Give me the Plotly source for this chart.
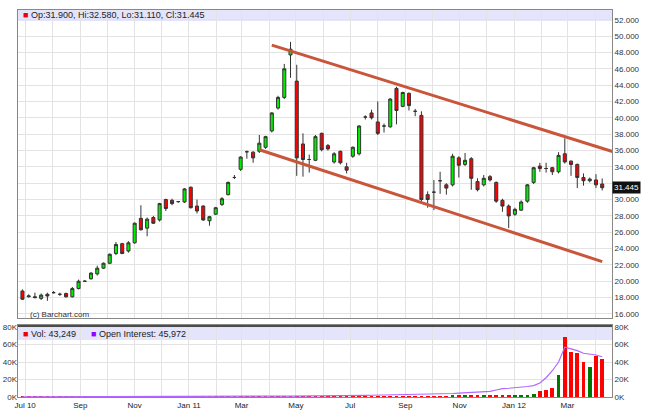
import plotly.graph_objects as go
import pandas as pd

start = "2010-06-28"
O = [18.8,18.1,18.1,17.9,18.4,18.6,18.4,18.5,18.1,19.1,20.0,20.3,20.9,21.6,22.2,23.4,24.6,23.7,24.7,27.7,
     26.5,27.8,27.5,30.0,29.9,29.75,29.7,31.5,29.2,29.2,27.4,28.2,29.4,30.6,32.7,33.7,35.85,35.8,35.9,36.4,
     38.4,41.2,42.5,47.7,44.5,36.8,34.9,34.8,38.1,36.6,34.6,35.9,34.0,35.3,35.6,40.1,40.6,39.5,39.0,38.9,
     43.6,41.4,43.0,40.8,40.3,30.6,30.9,32.3,31.8,31.8,35.1,34.3,35.0,32.2,31.8,32.8,32.1,29.9,29.2,28.2,
     28.7,29.8,32.1,34.1,33.8,33.9,33.4,35.6,34.7,34.3,32.7,32.3,32.4,31.9]
C = [17.8,18.2,18.0,18.3,18.2,18.6,18.4,18.1,19.1,20.0,20.0,21.0,21.6,22.2,23.3,24.5,23.4,24.7,27.1,26.3,
     27.6,27.1,29.5,28.9,29.5,29.75,31.3,29.0,28.6,27.5,27.9,29.0,30.1,32.1,32.7,35.2,35.85,35.1,36.9,37.7,
     40.6,42.5,46.0,48.4,35.1,34.9,34.9,37.7,36.1,36.2,35.6,34.5,33.6,36.4,39.0,40.1,40.0,38.1,39.0,42.3,
     40.9,43.1,41.5,40.8,30.0,30.0,30.9,32.3,31.4,35.3,34.2,34.8,32.6,31.2,32.6,32.4,29.8,29.2,28.0,28.8,
     29.7,31.8,33.9,33.8,33.8,33.4,35.4,34.6,34.3,32.7,32.3,32.5,31.8,31.445]
H = [19.0,18.4,18.6,18.5,18.6,18.8,18.6,18.6,19.3,20.2,20.1,21.1,21.9,22.3,23.4,24.8,24.7,24.9,27.2,29.3,
     27.8,28.0,29.6,30.1,30.1,29.8,31.4,31.6,30.0,29.3,28.0,29.1,30.3,32.2,33.0,35.3,36.0,35.9,37.9,37.8,
     40.7,42.7,46.6,49.3,46.5,38.1,35.5,37.9,38.2,36.8,35.8,36.0,34.5,36.5,39.1,40.3,41.0,42.0,39.3,42.4,
     43.8,43.2,43.1,41.1,40.8,31.0,32.4,33.4,32.0,35.6,35.3,35.7,35.2,32.6,33.0,33.0,32.2,30.1,29.4,29.0,
     29.9,31.9,34.0,34.5,34.5,34.0,35.8,37.5,34.8,34.4,33.2,32.7,33.1,32.58]
L = [17.7,18.0,17.9,17.7,17.6,18.5,18.2,18.0,18.0,19.0,19.9,20.2,20.7,21.5,22.1,23.2,23.3,23.5,24.6,26.2,
     25.5,27.0,27.3,28.6,29.3,29.6,29.6,28.9,28.3,27.4,26.8,28.1,29.2,30.5,32.5,33.5,35.0,34.5,35.7,36.2,
     38.2,41.0,42.3,44.9,32.9,32.8,33.3,34.7,35.9,36.0,34.4,34.3,33.2,35.1,35.4,39.8,39.8,37.9,38.2,38.8,
     39.2,41.3,40.9,40.2,29.8,29.0,28.7,30.7,30.6,31.6,32.7,34.1,31.2,31.0,31.6,32.2,29.6,28.5,26.5,28.0,
     28.6,29.6,31.9,33.4,33.3,33.0,33.2,34.4,32.9,31.4,31.7,32.1,31.4,31.11]
VOL = [0.1,0.1,0.1,0.1,0.1,0.1,0.1,0.1,0.1,0.1,0.1,0.1,0.1,0.1,0.1,0.1,0.1,0.1,0.1,0.1,
       0.1,0.1,0.1,0.1,0.1,0.1,0.1,0.1,0.1,0.1,0.1,0.1,0.1,0.1,0.1,0.1,0.1,0.1,0.1,0.1,
       0.1,0.1,0.1,0.1,0.2,0.2,0.2,0.2,0.2,0.2,0.2,0.2,0.2,0.2,0.2,0.2,0.2,0.2,0.2,0.2,
       0.3,0.3,0.3,0.3,0.3,0.3,0.3,0.3,0.3,
       1.5,2,2,2,2,1.5,2,1.5,1.5,1.5,2,2,2,3,7,8.5,10,25,69,52,50,40,34,47,43.249]
VOL_UP = "rrrrrrrrrrrrrrrrrrrrrrrrrrrrrrrrrrrrrrrrrrrrrrrrrrrrrrrrrrrrrrrrrrrrr" + "grgrrgrrrrggggrrrgrrrrgrr"
OI = [0.2,0.2,0.2,0.2,0.2,0.2,0.2,0.2,0.3,0.3,0.3,0.3,0.3,0.3,0.3,0.3,0.4,0.4,0.4,0.4,
      0.4,0.4,0.5,0.5,0.5,0.5,0.5,0.6,0.6,0.6,0.6,0.7,0.7,0.7,0.7,0.8,0.8,0.8,0.9,0.9,
      1.0,1.0,1.0,1.1,1.1,1.2,1.2,1.3,1.3,1.4,1.4,1.5,1.6,1.7,1.8,1.9,2.0,2.1,2.2,2.3,
      2.4,2.5,2.7,2.9,3.1,3.3,3.5,3.7,3.9,
      4,4.5,5,5,5.5,6,6.5,8,9.5,10,10.5,11,12,13,16,22,30,40,57,55,53,50,49,48,45.972]
UP_DATES = ["2011-04-04", "2012-05-28"]
UP_PRICES = [48.9, 34.6]
LO_DATES = ["2011-03-21", "2012-04-09"]
LO_PRICES = [36.1, 22.4]
TICK_MONTHS = pd.date_range("2010-07-01", "2012-04-01", freq="MS")
TICK_LABELS = {"2010-07": "Jul 10", "2011-01": "Jan 11", "2012-01": "Jan 12"}
PRICE_TICKS = list(range(16, 53, 2))

dates = pd.date_range(start, periods=len(O), freq="7D")
ticktext = []
for i, d in enumerate(TICK_MONTHS):
    k = d.strftime("%Y-%m")
    ticktext.append(TICK_LABELS.get(k, d.strftime("%b")) if i % 2 == 0 else "")
price_text = ["" if v == 32 else f"{v:.3f}" for v in PRICE_TICKS]

fig = go.Figure()
fig.add_trace(go.Candlestick(x=dates, open=O, high=H, low=L, close=C,
    increasing=dict(fillcolor="#00ee00", line=dict(color="#333333", width=1)),
    decreasing=dict(fillcolor="#ff0000", line=dict(color="#333333", width=1)),
    whiskerwidth=0, xaxis="x", yaxis="y", showlegend=False))
for xs, ys in [(UP_DATES, UP_PRICES), (LO_DATES, LO_PRICES)]:
    fig.add_trace(go.Scatter(x=xs, y=ys, mode="lines", line=dict(color="#c9553a", width=3),
                             xaxis="x", yaxis="y", showlegend=False, hoverinfo="skip"))
fig.add_trace(go.Bar(x=dates, y=VOL, marker_color=["#ff0000" if c == "r" else "#007700" for c in VOL_UP],
                     marker_line_width=0, width=4.2*86400000, xaxis="x2", yaxis="y2", showlegend=False))
fig.add_trace(go.Scatter(x=dates, y=OI, mode="lines", line=dict(color="#b266ff", width=1.2),
                         xaxis="x2", yaxis="y2", showlegend=False))
fig.add_trace(go.Scatter(x=[dates[0]], y=[0], mode="markers", marker=dict(opacity=0),
                         xaxis="x2", yaxis="y3", showlegend=False, hoverinfo="skip"))

xr = ["2010-06-23", "2012-04-20"]
grid = "#e3e3e3"
tf = dict(family="Arial", size=8, color="#333")
common_x = dict(range=xr, tickvals=TICK_MONTHS, ticktext=ticktext, showgrid=True, gridcolor=grid,
                showline=True, linecolor="#888888", mirror=True, ticks="", zeroline=False, automargin=False,
                rangeslider=dict(visible=False), ticklabelstandoff=0,
                tickfont=dict(family="Arial Black, Arial", size=8, color="#222"))

BOT = 397
def ypx(px):
    return (BOT - px) / (BOT - 10)

fig.update_layout(
    width=645, height=410, margin=dict(l=18, r=33, t=10, b=410 - BOT),
    paper_bgcolor="white", plot_bgcolor="white", bargap=0,
    xaxis=dict(common_x, domain=[0, 1], anchor="y", showticklabels=False),
    xaxis2=dict(common_x, domain=[0, 1], anchor="y2", matches="x", showticklabels=True),
    yaxis=dict(domain=[ypx(318), 1], range=[15.5, 53.2], side="right", tickvals=PRICE_TICKS,
               ticktext=price_text, showgrid=True, gridcolor=grid, showline=True, linecolor="#888888",
               mirror=True, zeroline=False, tickfont=tf, automargin=False),
    yaxis2=dict(domain=[0, ypx(325)], range=[0, 82.3], side="right", tickvals=[0, 20, 40, 60, 80],
                ticktext=["0K", "20K", "40K", "60K", "80K"], showgrid=True, gridcolor=grid,
                showline=True, linecolor="#888888", mirror=True, zeroline=False, tickfont=tf, automargin=False),
    yaxis3=dict(overlaying="y2", range=[0, 82.3], side="left", tickvals=[0, 20, 40, 60, 80],
                ticktext=["0K", "20K", "40K", "60K", "80K"], showgrid=False, zeroline=False,
                tickfont=tf, anchor="x2", automargin=False, ticklen=0),
)

fig.add_shape(type="rect", xref="paper", yref="paper", x0=0, x1=1, y0=ypx(21), y1=ypx(10),
              fillcolor="#e4e4fa", line_width=0, layer="below")
fig.add_shape(type="rect", xref="paper", yref="paper", x0=0, x1=1, y0=ypx(340), y1=ypx(327),
              fillcolor="#e4e4fa", line_width=0, layer="below")
fig.add_shape(type="line", xref="paper", yref="paper", x0=0, x1=1, y0=ypx(326), y1=ypx(326),
              line=dict(color="#111", width=1.5))
fig.add_annotation(xref="paper", yref="paper", x=0.005, y=ypx(15.5), xanchor="left", yanchor="middle",
                   showarrow=False, font=dict(family="Arial", size=9, color="#222"),
                   text="<span style='color:#ee0000'>■</span> Op:31.900, Hi:32.580, Lo:31.110, Cl:31.445")
fig.add_annotation(xref="paper", yref="paper", x=0.005, y=ypx(333.5), xanchor="left", yanchor="middle",
                   showarrow=False, font=dict(family="Arial", size=9, color="#222"),
                   text="<span style='color:#ee0000'>■</span> Vol: 43,249      <span style='color:#9900ff'>■</span> Open Interest: 45,972")
fig.add_annotation(xref="paper", yref="paper", x=0.017, y=ypx(314), xanchor="left", yanchor="middle",
                   showarrow=False, font=dict(family="Arial", size=8, color="#333"), text="(c) Barchart.com")
fig.add_annotation(xref="paper", yref="y", x=1.0, y=C[-1], xanchor="left", yanchor="middle",
                   showarrow=False, font=dict(family="Arial", size=8, color="white"),
                   text="31.445", bgcolor="#111", borderpad=1)
fig.write_html("out.html", config={"displayModeBar": False},
               post_script="document.body.style.margin='0';document.body.style.overflow='hidden';")
